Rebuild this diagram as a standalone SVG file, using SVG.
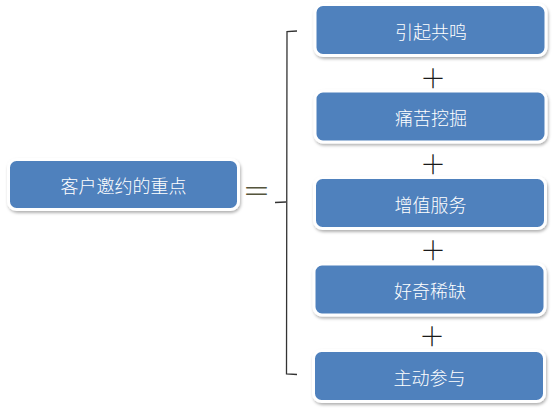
<svg xmlns="http://www.w3.org/2000/svg" width="554" height="411" viewBox="0 0 554 411">
<defs>
<filter id="sh" x="-10%" y="-20%" width="120%" height="150%">
<feDropShadow dx="1" dy="2" stdDeviation="1.5" flood-color="#000" flood-opacity="0.3"/>
</filter>
<style>
.box{fill:#4f81bd;stroke:#fff;stroke-width:3;filter:url(#sh)}
.lbl{font-family:"Noto Sans CJK SC","Noto Sans",sans-serif;font-size:18px;font-weight:300;fill:#fff;text-anchor:middle;dominant-baseline:central}
.op{font-family:"Noto Sans CJK SC","Liberation Sans",sans-serif;font-weight:300;fill:#1a1a1a;text-anchor:middle;dominant-baseline:central}
.br{fill:none;stroke:#333;stroke-width:1.3}
</style>
</defs>
<rect width="554" height="411" fill="#fff"/>
<g id="connectors">
<path class="br" d="M297,31 L287,31.5 L286.5,374 L297,374.5"/>
<path class="br" d="M275,202.5 L286,202"/>
<text class="op" x="256.5" y="189.5" font-size="28" style="fill:#55553c">＝</text>
<text class="op" x="433" y="76" font-size="26">＋</text>
<text class="op" x="433" y="162" font-size="26">＋</text>
<text class="op" x="433" y="248" font-size="26">＋</text>
<text class="op" x="432" y="334" font-size="26">＋</text>
</g>
<g id="n0"><rect class="box" x="8.5" y="159.5" width="230" height="50" rx="8"/><text class="lbl" x="123.5" y="185">客户邀约的重点</text></g>
<g id="n1"><rect class="box" x="315" y="4.5" width="231" height="51" rx="8"/><text class="lbl" x="431" y="30.5">引起共鸣</text></g>
<g id="n2"><rect class="box" x="315" y="91" width="231" height="51" rx="8"/><text class="lbl" x="431" y="117">痛苦挖掘</text></g>
<g id="n3"><rect class="box" x="314.5" y="177.5" width="231" height="51" rx="8"/><text class="lbl" x="430.5" y="203.5">增值服务</text></g>
<g id="n4"><rect class="box" x="314" y="264" width="231" height="51" rx="8"/><text class="lbl" x="430" y="290">好奇稀缺</text></g>
<g id="n5"><rect class="box" x="313.5" y="350.5" width="231" height="51" rx="8"/><text class="lbl" x="429.5" y="376.5">主动参与</text></g>
</svg>
